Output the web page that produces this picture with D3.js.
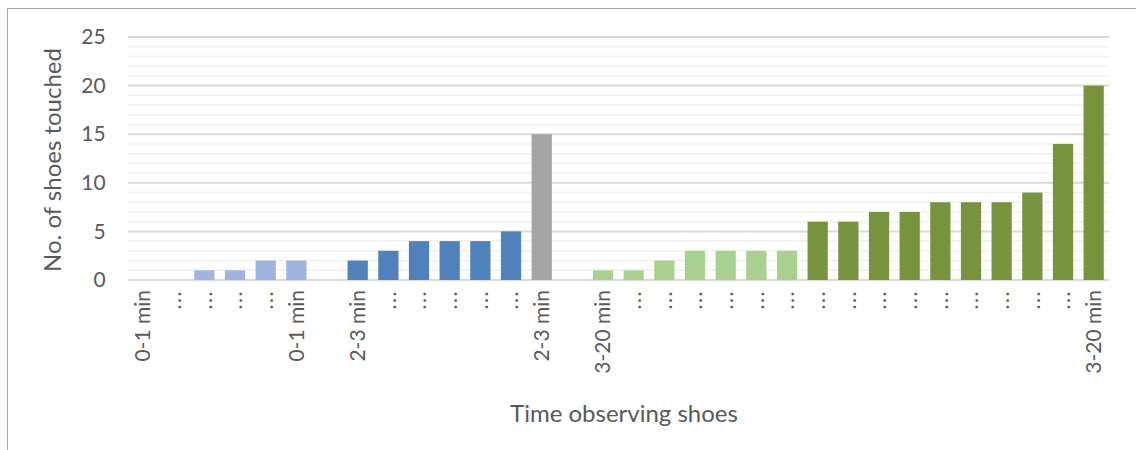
<!DOCTYPE html>
<html lang="en">
  <head>
    <meta charset="utf-8">
    <title>Shoes touched</title>
    <script src="https://d3js.org/d3.v7.min.js"></script>
    <style>
      body { margin: 0; background: #fff; }
      .mychart text { font-family: Lato, "Open Sans", sans-serif; fill: #595959; }
    </style>
  </head>
  <body>
    <div class="mychart" id="chart"></div>
    <script type="text/javascript">
      "use strict"
      // one entry per category slot on the x axis (blank slots separate the groups)
      var labels = ["0-1 min", "...", "...", "...", "...", "0-1 min", "",
                    "2-3 min", "...", "...", "...", "...", "...", "2-3 min", "",
                    "3-20 min", "...", "...", "...", "...", "...", "...",
                    "...", "...", "...", "...", "...", "...", "...", "...", "...", "3-20 min"]
      var values = [0, 0, 1, 1, 2, 2, null,
                    2, 3, 4, 4, 4, 5, 15, null,
                    1, 1, 2, 3, 3, 3, 3,
                    6, 6, 7, 7, 8, 8, 8, 9, 14, 20]
      var groups = ["a", "a", "a", "a", "a", "a", "",
                    "b", "b", "b", "b", "b", "b", "c", "",
                    "d", "d", "d", "d", "d", "d", "d",
                    "e", "e", "e", "e", "e", "e", "e", "e", "e", "e"]
      var yTicks = [0, 5, 10, 15, 20, 25]
      var colores = {a: "#9fb4df", b: "#4f81bd", c: "#a5a5a5", d: "#a9d18e", e: "#77933c"}

      var larguraSVG = 1136, alturaSVG = 450
      var margin = {top: 37, left: 127.7, right: 27, bottom: 170}
      var svg = d3.select('#chart')
        .append('svg')
          .attr('width', larguraSVG)
          .attr('height', alturaSVG)

      // moldura do grafico
      svg.append('rect')
        .attr('x', 7.5).attr('y', 8.5)
        .attr('width', 1200).attr('height', 600)
        .attr('fill', 'none')
        .attr('stroke', '#a6a6a6')

      var dados = values.map((v, i) => ({i: i, label: labels[i], valor: v, grupo: groups[i]}))

      var x = d3.scaleBand()
        .domain(dados.map(d => d.i))
        .range([margin.left, 1109])
        .paddingInner(0.34)
        .paddingOuter(0.17)
      var y = d3.scaleLinear()
        .domain([0, 25])
        .range([280, margin.top])

      // linhas de grade: menores a cada 1, maiores a cada 5
      svg.append('g')
        .selectAll('line')
        .data(d3.range(0, 26).filter(v => v % 5 !== 0))
        .enter().append('line')
          .attr('x1', margin.left).attr('x2', 1109)
          .attr('y1', d => y(d)).attr('y2', d => y(d))
          .attr('stroke', '#efefef')
          .attr('stroke-width', 1.5)
      svg.append('g')
        .selectAll('line')
        .data(yTicks)
        .enter().append('line')
          .attr('x1', margin.left).attr('x2', 1109)
          .attr('y1', d => y(d)).attr('y2', d => y(d))
          .attr('stroke', '#d9d9d9')
          .attr('stroke-width', 2)

      // barras
      svg.append('g')
        .selectAll('rect')
        .data(dados.filter(d => d.valor))
        .enter().append('rect')
          .attr('x', d => x(d.i))
          .attr('width', x.bandwidth())
          .attr('y', d => y(d.valor))
          .attr('height', d => y(0) - y(d.valor))
          .attr('fill', d => colores[d.grupo])

      // eixo y
      var eixoY = svg.append('g')
        .attr('transform', 'translate(' + margin.left + ',0)')
        .call(d3.axisLeft(y).tickValues(yTicks).tickSize(0).tickPadding(22))
      eixoY.select('.domain').remove()
      eixoY.selectAll('text').style('font-size', '21px')

      // eixo x
      var eixoX = svg.append('g')
        .attr('transform', 'translate(0,280)')
        .call(d3.axisBottom(x).tickFormat(i => labels[i]).tickSize(0))
      eixoX.select('.domain').remove()
      eixoX.selectAll('text')
        .style('font-size', '21px')
        .style('letter-spacing', d => labels[d] === '...' ? '1.5px' : null)
        .attr('text-anchor', 'end')
        .attr('dy', '0.35em')
        .attr('transform', 'translate(0,10) rotate(-90)')
        .attr('x', 0).attr('y', 0)

      // titulos dos eixos
      svg.append('text')
        .attr('transform', 'translate(61,160) rotate(-90)')
        .attr('text-anchor', 'middle')
        .style('font-size', '24px')
        .text('No. of shoes touched')
      svg.append('text')
        .attr('x', 624).attr('y', 422)
        .attr('text-anchor', 'middle')
        .style('font-size', '24px')
        .text('Time observing shoes')
    </script>
  </body>
</html>
